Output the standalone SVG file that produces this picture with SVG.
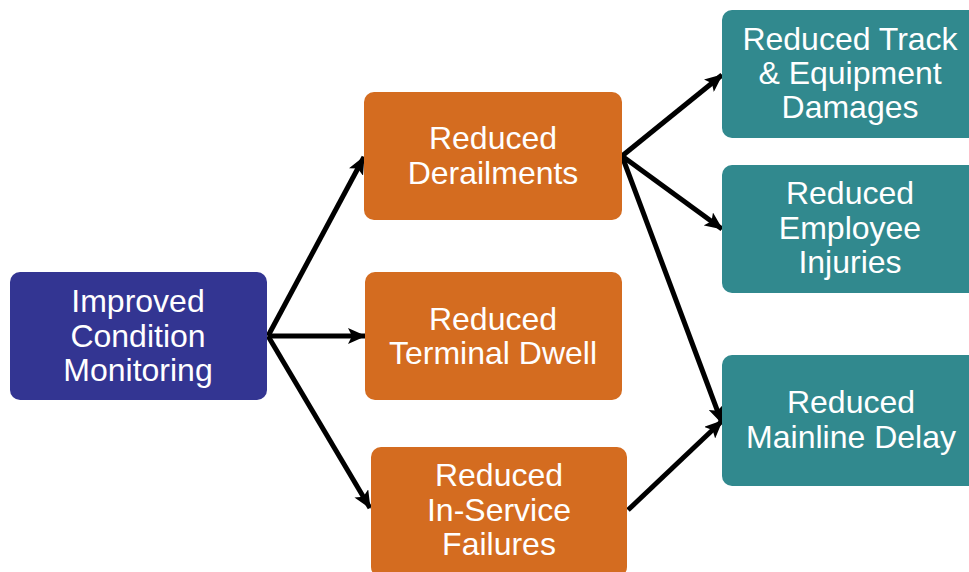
<svg xmlns="http://www.w3.org/2000/svg" width="969" height="572" viewBox="0 0 969 572">
<defs>
<marker id="ah" markerUnits="userSpaceOnUse" markerWidth="18" markerHeight="16" refX="17" refY="8" orient="auto">
<path d="M0,0 L18,8 L0,16 L4,8 Z" fill="#000"/>
</marker>
<style>
.t{font-family:"Liberation Sans",Arial,sans-serif;font-size:32px;fill:#fff;text-anchor:middle}
.blue{fill:#333592}
.orange{fill:#D46C20}
.teal{fill:#31898E}
.c{stroke:#000;stroke-width:5;fill:none;marker-end:url(#ah)}
</style>
</defs>
<rect width="969" height="572" fill="#fff"/>
<g id="connectors">
<line class="c" x1="268" y1="336" x2="364" y2="157"/>
<line class="c" x1="268" y1="336" x2="365" y2="336"/>
<line class="c" x1="268" y1="336" x2="370" y2="508"/>
<line class="c" x1="622" y1="156" x2="722" y2="75"/>
<line class="c" x1="622" y1="156" x2="722" y2="229"/>
<line class="c" x1="622" y1="156" x2="722" y2="423"/>
<line class="c" x1="628" y1="510" x2="722" y2="421"/>
</g>
<g id="improved">
<rect class="blue" x="10" y="272" width="257" height="128" rx="10"/>
<text class="t" x="138" y="312">Improved</text>
<text class="t" x="138" y="347">Condition</text>
<text class="t" x="138" y="381">Monitoring</text>
</g>
<g id="derailments">
<rect class="orange" x="364" y="92" width="258" height="128" rx="10"/>
<text class="t" x="493" y="149">Reduced</text>
<text class="t" x="493" y="184">Derailments</text>
</g>
<g id="dwell">
<rect class="orange" x="365" y="272" width="257" height="128" rx="10"/>
<text class="t" x="493" y="330">Reduced</text>
<text class="t" x="493" y="364">Terminal Dwell</text>
</g>
<g id="failures">
<rect class="orange" x="371" y="447" width="256" height="130" rx="10"/>
<text class="t" x="499" y="486">Reduced</text>
<text class="t" x="499" y="521">In-Service</text>
<text class="t" x="499" y="555">Failures</text>
</g>
<g id="track">
<rect class="teal" x="722" y="10" width="260" height="128" rx="10"/>
<text class="t" x="850" y="50">Reduced Track</text>
<text class="t" x="850" y="84">&amp; Equipment</text>
<text class="t" x="850" y="118">Damages</text>
</g>
<g id="injuries">
<rect class="teal" x="722" y="165" width="260" height="128" rx="10"/>
<text class="t" x="850" y="204">Reduced</text>
<text class="t" x="850" y="239">Employee</text>
<text class="t" x="850" y="273">Injuries</text>
</g>
<g id="delay">
<rect class="teal" x="722" y="355" width="260" height="131" rx="10"/>
<text class="t" x="851" y="413">Reduced</text>
<text class="t" x="851" y="448">Mainline Delay</text>
</g>
</svg>
